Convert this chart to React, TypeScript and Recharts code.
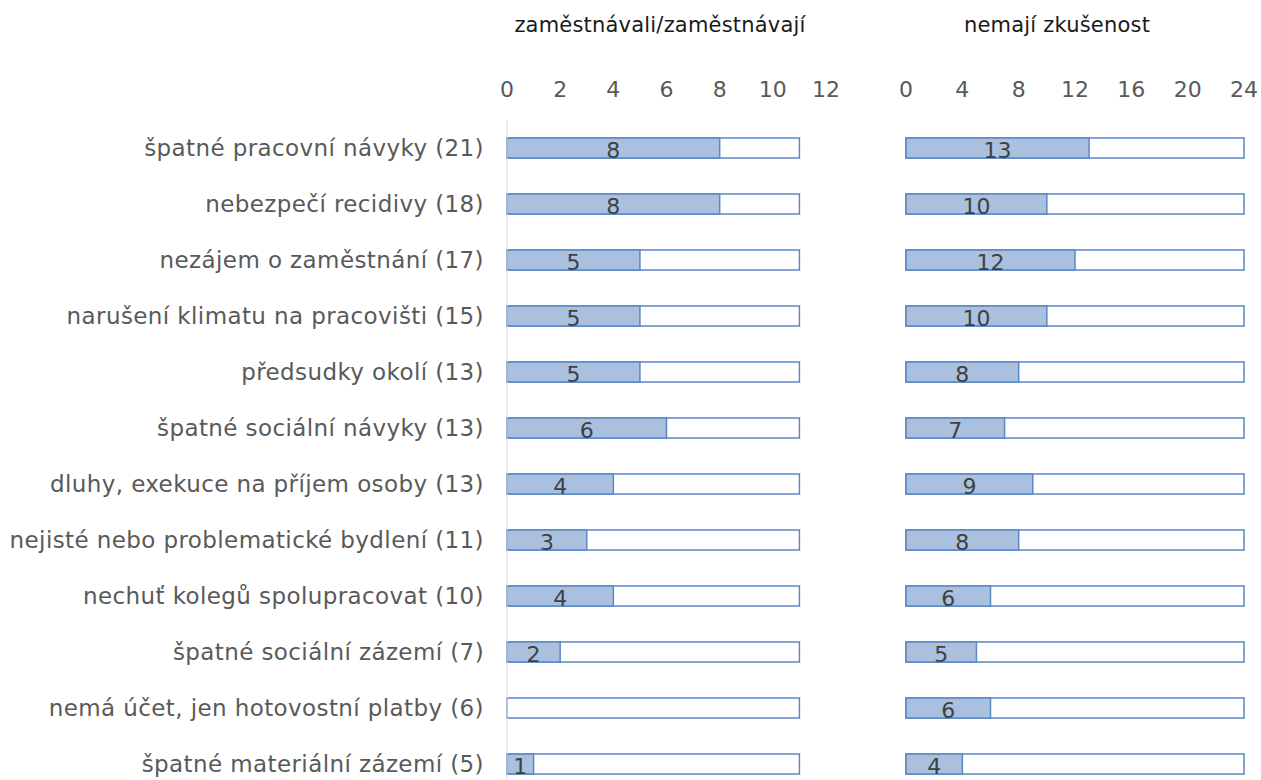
import { BarChart, Bar, XAxis, YAxis, LabelList } from 'recharts';

const categories = [
  'špatné pracovní návyky (21)',
  'nebezpečí recidivy (18)',
  'nezájem o zaměstnání (17)',
  'narušení klimatu na pracovišti (15)',
  'předsudky okolí (13)',
  'špatné sociální návyky (13)',
  'dluhy, exekuce na příjem osoby (13)',
  'nejisté nebo problematické bydlení (11)',
  'nechuť kolegů spolupracovat (10)',
  'špatné sociální zázemí (7)',
  'nemá účet, jen hotovostní platby (6)',
  'špatné materiální zázemí (5)',
];

// respondents who employed / employ
const employedValues = [8, 8, 5, 5, 5, 6, 4, 3, 4, 2, 0, 1];
// respondents without experience
const noExperienceValues = [13, 10, 12, 10, 8, 7, 9, 8, 6, 5, 6, 4];

const employedTotal = 11;
const noExperienceTotal = 24;

const employedTicks = [0, 2, 4, 6, 8, 10, 12];
const noExperienceTicks = [0, 4, 8, 12, 16, 20, 24];

const FONT = '"DejaVu Sans", Verdana, sans-serif';
const FILL = '#a9c1df';
const STROKE = '#5a87c6';

const employedData = categories.map((name, i) => ({
  name,
  value: employedValues[i],
  total: employedTotal,
}));

const noExperienceData = categories.map((name, i) => ({
  name,
  value: noExperienceValues[i],
  total: noExperienceTotal,
}));

const tickStyle = { fontSize: 22, fill: '#595959', fontFamily: FONT };
const catStyle = { fontSize: 23, fill: '#595959', fontFamily: FONT, letterSpacing: 0.4 };
const valueStyle = { fontSize: 22, fill: '#404040', fontFamily: FONT };

function hideZero(v: unknown) {
  return v === 0 ? '' : String(v);
}

const titleStyle = {
  position: 'absolute' as const,
  width: 300,
  top: 13,
  fontSize: 21,
  letterSpacing: 0.2,
  color: '#1a1a1a',
  whiteSpace: 'nowrap' as const,
  display: 'flex',
  justifyContent: 'center',
};

export default function App() {
  return (
    <div
      style={{
        position: 'absolute',
        left: 0,
        top: 0,
        width: 1261,
        height: 780,
        overflow: 'hidden',
        background: '#fff',
        fontFamily: FONT,
      }}
    >
      <div style={{ ...titleStyle, left: 510 }}>zaměstnávali/zaměstnávají</div>
      <div style={{ ...titleStyle, left: 907 }}>nemají zkušenost</div>

      <div style={{ position: 'absolute', left: 0, top: 0 }}>
        <BarChart
          width={840}
          height={800}
          data={employedData}
          layout="vertical"
          margin={{ top: 90, right: 14, bottom: 8, left: 0 }}
          barSize={20}
          barGap={-20}
        >
          <XAxis
            type="number"
            orientation="top"
            domain={[0, 12]}
            ticks={employedTicks}
            axisLine={false}
            tickLine={false}
            tick={tickStyle}
            tickMargin={17}
            interval={0}
            height={30}
          />
          <YAxis
            type="category"
            dataKey="name"
            width={507}
            tickLine={false}
            axisLine={{ stroke: '#d9d9d9' }}
            tick={catStyle}
            tickMargin={17}
            interval={0}
          />
          <Bar dataKey="total" fill="#fff" stroke={STROKE} strokeWidth={1.5} isAnimationActive={false} />
          <Bar dataKey="value" fill={FILL} stroke={STROKE} strokeWidth={1.5} isAnimationActive={false}>
            <LabelList dataKey="value" position="center" formatter={hideZero} style={valueStyle} dy={2} />
          </Bar>
        </BarChart>
      </div>

      <div style={{ position: 'absolute', left: 860, top: 0 }}>
        <BarChart
          width={401}
          height={800}
          data={noExperienceData}
          layout="vertical"
          margin={{ top: 90, right: 17, bottom: 8, left: 46 }}
          barSize={20}
          barGap={-20}
        >
          <XAxis
            type="number"
            orientation="top"
            domain={[0, 24]}
            ticks={noExperienceTicks}
            axisLine={false}
            tickLine={false}
            tick={tickStyle}
            tickMargin={17}
            interval={0}
            height={30}
          />
          <YAxis type="category" dataKey="name" hide />
          <Bar dataKey="total" fill="#fff" stroke={STROKE} strokeWidth={1.5} isAnimationActive={false} />
          <Bar dataKey="value" fill={FILL} stroke={STROKE} strokeWidth={1.5} isAnimationActive={false}>
            <LabelList dataKey="value" position="center" formatter={hideZero} style={valueStyle} dy={2} />
          </Bar>
        </BarChart>
      </div>
    </div>
  );
}
